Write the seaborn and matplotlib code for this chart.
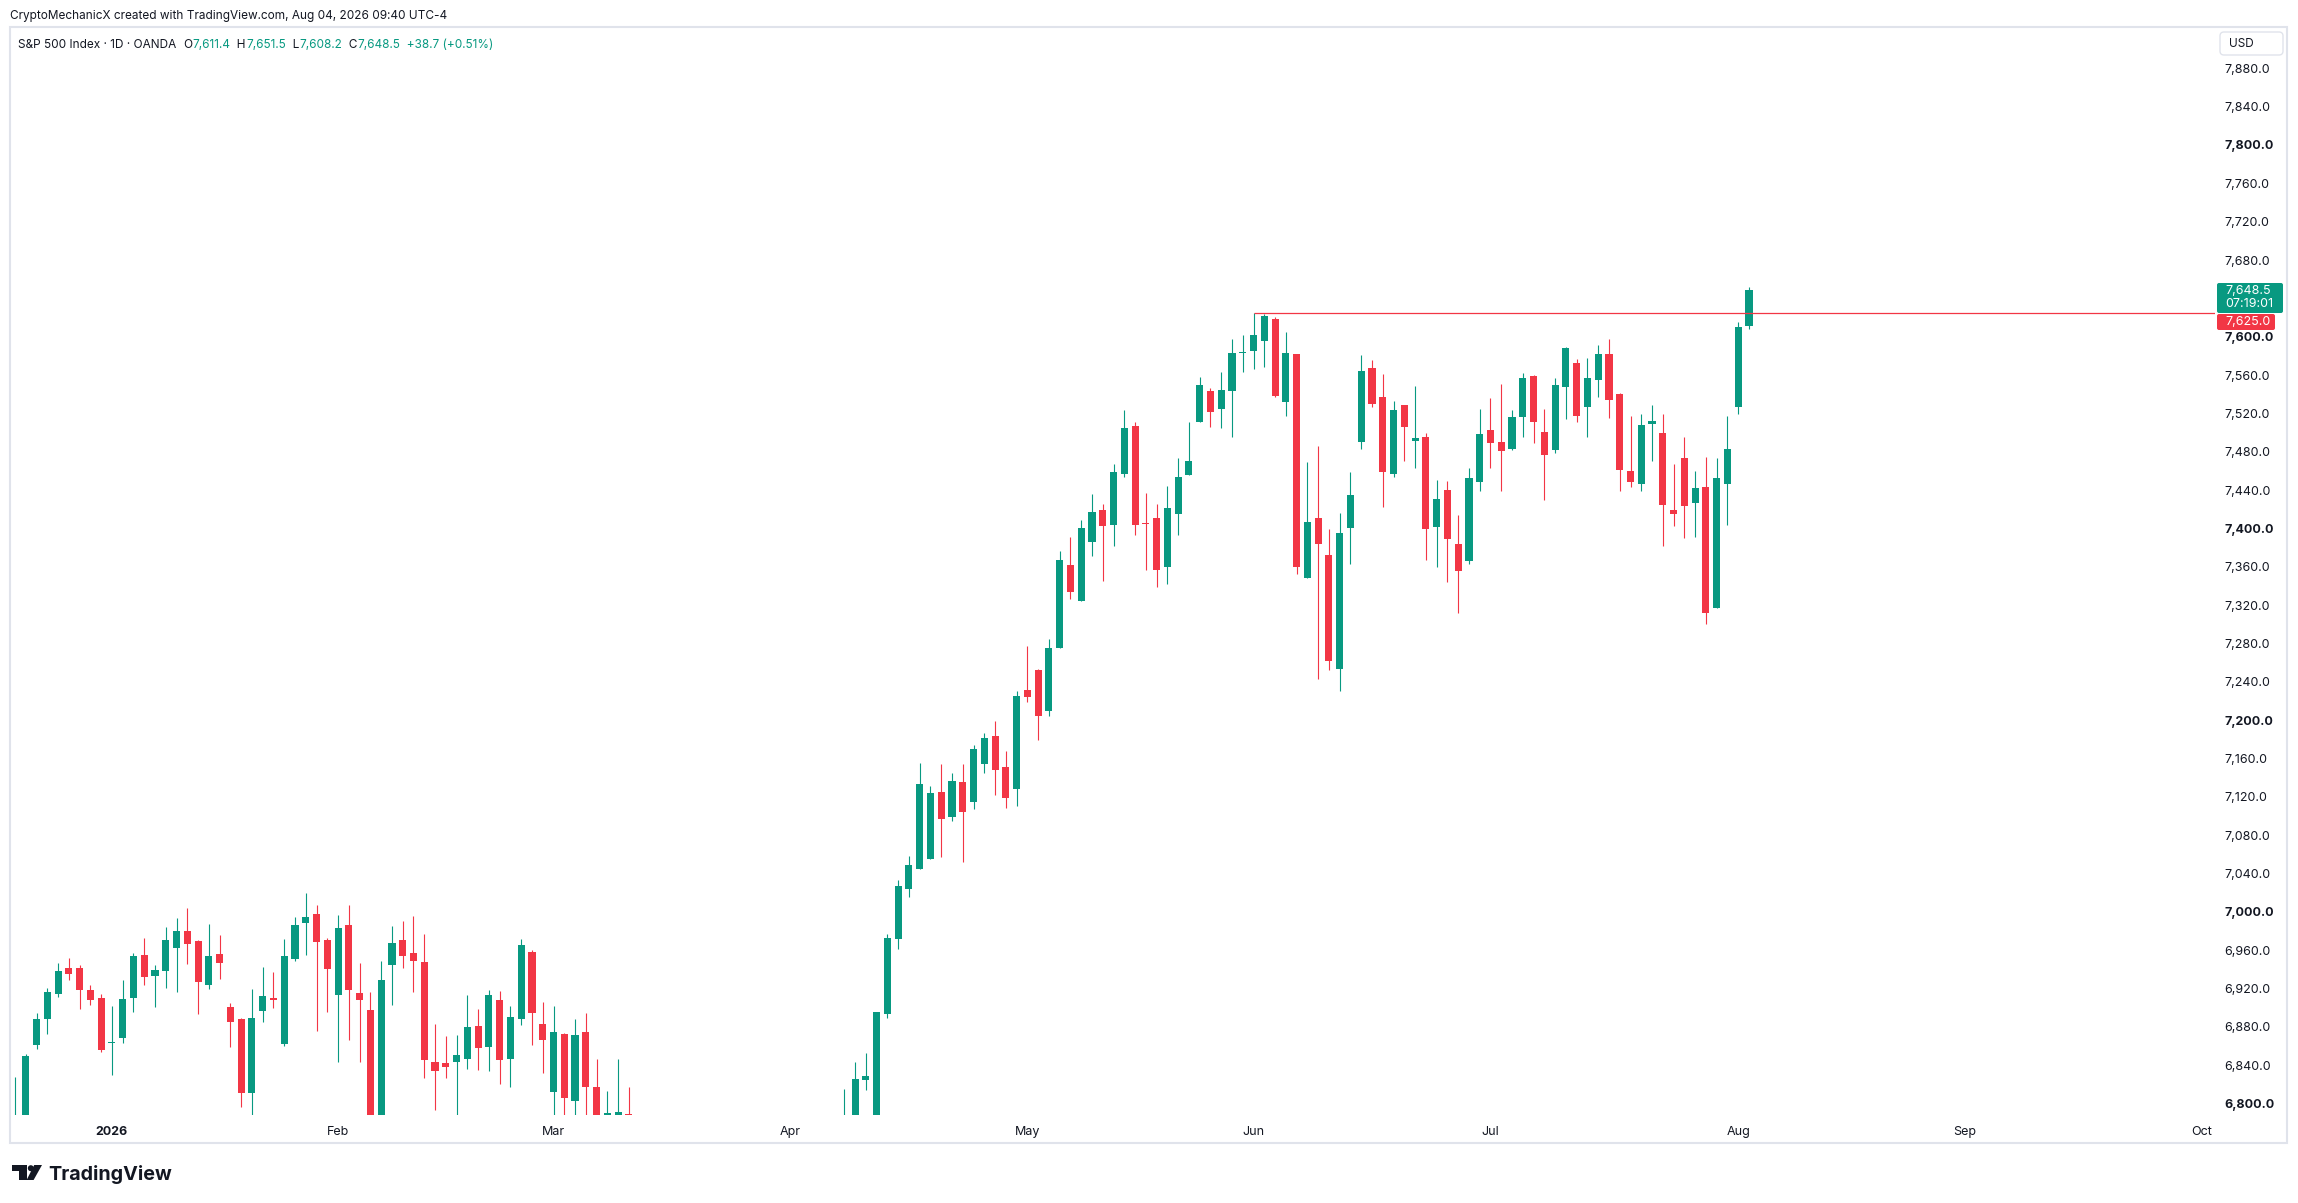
import numpy as np
import pandas as pd
import seaborn as sns
import matplotlib.pyplot as plt
from matplotlib.patches import Rectangle, FancyBboxPatch, Polygon, Circle

# ---------------- data ----------------
first_day = "2025-12-18"
last_axis_day = "2026-10-30"
closed_days = ["2025-12-25", "2026-01-01"]

opens = [6760, 6770, 6861, 6888, 6914.6, 6941.3, 6941.3, 6918.4, 6910, 6863,
         6868.7, 6910.4, 6954.9, 6933, 6938.6, 6962.6, 6980, 6969.9, 6923.6, 6956,
         6900.7, 6888.1, 6811.3, 6896.8, 6910, 6862, 6951.1, 6988.6, 6998, 6970.6,
         6913.2, 6986.2, 6915.3, 6897.5, 6770, 6944.8, 6970.6, 6957, 6947.6, 6843.3,
         6842.2, 6843.6, 6846.8, 6880.8, 6859.3, 6908, 6846.8, 6888.5, 6958, 6882.9,
         6812.3, 6872.5, 6802.9, 6874.6, 6816.8, 6765, 6770, 6789, 6765, 6712,
         6740, 6701, 6655, 6690, 6672, 6618, 6645, 6603, 6560, 6595,
         6630, 6598, 6655, 6705, 6680, 6735, 6718, 6760, 6775, 6825,
         6780, 6893.8, 6972, 7024.2, 7045.1, 7054.8, 7124.8, 7098.4, 7135.2, 7114.7,
         7154.6, 7183.3, 7150.9, 7128.5, 7231.4, 7252.2, 7209.8, 7274.8, 7361.8, 7324.6,
         7385.8, 7419.2, 7403.5, 7457.1, 7506.8, 7405.5, 7410.8, 7360, 7415.3, 7456,
         7511.3, 7543.3, 7524.5, 7543.7, 7582.6, 7585.1, 7595.8, 7618.4, 7532.2, 7582,
         7348.6, 7410.8, 7372.2, 7253.3, 7400.7, 7490.5, 7567.3, 7537.1, 7457.1, 7528.7,
         7491.5, 7495.3, 7401.8, 7440, 7383.7, 7366.3, 7448.1, 7502.3, 7489.8, 7482.8,
         7516.6, 7559, 7500.2, 7482.1, 7547.9, 7572.2, 7526.3, 7555.2, 7581.6, 7539.9,
         7459.9, 7446, 7508.6, 7499.5, 7419.2, 7473.5, 7426.8, 7443.2, 7317.3, 7446.7,
         7527, 7611.4]
highs = [6828, 6851.6, 6894, 6921, 6946.6, 6951.8, 6944.1, 6923.3, 6913.9, 6901.7,
         6928.8, 6956.6, 6972.6, 6944.5, 6984.1, 6993.2, 7004.3, 6970.6, 6987.3, 6975.8,
         6904.5, 6888.8, 6919.4, 6942.4, 6937.2, 6971.6, 6994.6, 7019.6, 7007.4, 6972.6,
         6996.6, 7007.4, 6946.6, 6916.3, 6949, 6985.2, 6990.4, 6995.6, 6976.8, 6882.9,
         6870.7, 6871.8, 6913.2, 6898.6, 6918.4, 6917.3, 6901.7, 6971.6, 6960.1, 6905.9,
         6901.7, 6873.9, 6888.1, 6894.4, 6846.4, 6813.4, 6846.4, 6817.2, 6780, 6760,
         6770, 6730, 6700, 6740, 6690, 6660, 6680, 6630, 6610, 6650,
         6660, 6670, 6720, 6740, 6750, 6770, 6775, 6815.5, 6843.5, 6852.8,
         6895.6, 6976.5, 7032.8, 7058.1, 7155.4, 7131.1, 7154.2, 7144.6, 7154.2, 7174.4,
         7186.7, 7199, 7167.7, 7230.3, 7277.6, 7253.4, 7284.3, 7376.4, 7391.3, 7408.7,
         7435.9, 7425.4, 7467.2, 7523.5, 7511, 7436.9, 7425.4, 7444.2, 7473.4, 7511,
         7558, 7546.1, 7563, 7598, 7601.7, 7624.4, 7623.7, 7620.2, 7604.9, 7582,
         7469.2, 7486.3, 7399.7, 7416, 7458.8, 7580.9, 7575.7, 7561.1, 7532.9, 7528.7,
         7548.5, 7499.2, 7450.5, 7449.4, 7414, 7463, 7524.6, 7536.1, 7550.7, 7523.5,
         7561.8, 7560.1, 7524.2, 7556.6, 7589.6, 7577.1, 7577.8, 7591, 7597.6, 7540.9,
         7517.3, 7519.4, 7528.7, 7519.4, 7467.2, 7495.7, 7460.2, 7474.5, 7473.4, 7517.6,
         7615.7, 7651.5]
lows = [6740, 6760, 6857, 6872, 6911.5, 6929.2, 6899, 6903.1, 6854, 6830,
        6863.4, 6895.8, 6924, 6901, 6920.8, 6916.7, 6945.9, 6893, 6919.1, 6930.2,
        6858.6, 6796, 6785, 6885.4, 6899.3, 6860.3, 6949, 6955.3, 6876, 6895.8,
        6843.6, 6866.2, 6843.6, 6750, 6750, 6902.7, 6941.7, 6916.7, 6826.9, 6793.5,
        6826.9, 6785, 6836.3, 6835.3, 6834.2, 6820.7, 6817.5, 6882.2, 6861.4, 6832.1,
        6780, 6780, 6780, 6780, 6740, 6740, 6740, 6740, 6700, 6680,
        6690, 6640, 6620, 6660, 6600, 6570, 6590, 6540, 6520, 6570,
        6580, 6585, 6640, 6660, 6670, 6700, 6705, 6745, 6765, 6813.7,
        6770, 6889.3, 6960.9, 7015.6, 7045.1, 7054.8, 7057, 7095, 7051.8, 7107.3,
        7144.9, 7121.8, 7108.8, 7110.3, 7219.1, 7179.6, 7203.8, 7274.8, 7326.3, 7324.6,
        7371.5, 7345.1, 7381.9, 7453.9, 7393.4, 7356.6, 7339.2, 7341.9, 7393.4, 7456,
        7511.3, 7506.1, 7505, 7495.7, 7563.5, 7566.3, 7568.7, 7536.7, 7517.2, 7352.4,
        7348.6, 7242.5, 7252.2, 7230, 7362.8, 7482.5, 7527, 7422.6, 7454, 7470.6,
        7463.3, 7367, 7359.3, 7344.4, 7312, 7362.8, 7439.4, 7463.4, 7438.7, 7481.8,
        7495.7, 7489.4, 7430, 7478.3, 7514.5, 7511.4, 7495.7, 7537.4, 7515.5, 7439.4,
        7443.5, 7439.4, 7470.7, 7381.6, 7402.9, 7390.3, 7391.4, 7299.9, 7317.3, 7403.5,
        7519.7, 7608.2]
closes = [6785, 6849.9, 6888, 6916, 6938.2, 6935.4, 6918.8, 6908.3, 6855.8, 6864,
          6909, 6953.9, 6932.3, 6939.3, 6970.6, 6980, 6966.7, 6927.1, 6953.9, 6946.9,
          6885.4, 6810.6, 6889.2, 6912, 6907.6, 6953.9, 6986.2, 6994.6, 6968.8, 6940.7,
          6983.1, 6918.7, 6908.3, 6770, 6928.8, 6967.4, 6954.2, 6949, 6845.7, 6834.2,
          6838.4, 6850.6, 6879.8, 6858.2, 6913.2, 6845.7, 6890.2, 6965.3, 6894.7, 6866.6,
          6874.6, 6806, 6871.4, 6817.5, 6765, 6790, 6790.8, 6765, 6712, 6740,
          6701, 6655, 6690, 6672, 6618, 6645, 6603, 6560, 6595, 6630,
          6598, 6655, 6705, 6680, 6735, 6718, 6760, 6775, 6826, 6828.6,
          6895.6, 6972.8, 7026.8, 7049.2, 7133.4, 7124.1, 7097.2, 7136.4, 7104.3, 7169.9,
          7181.4, 7148.3, 7119.2, 7225, 7224.3, 7204.5, 7275.3, 7367, 7333.3, 7400.4,
          7417.1, 7402.8, 7458.8, 7504.7, 7403.9, 7404.5, 7356.9, 7421.2, 7453.6, 7470.6,
          7549.6, 7521.8, 7544.4, 7583, 7584.5, 7601.7, 7621.6, 7538.1, 7583, 7360,
          7406.6, 7384, 7262, 7395.2, 7434.8, 7564.2, 7530.1, 7459.2, 7523.5, 7506.1,
          7494.3, 7399.7, 7430.6, 7389.3, 7355.9, 7452.6, 7498.5, 7489.4, 7481.1, 7516.2,
          7556.9, 7511.4, 7476.9, 7549.6, 7587.9, 7517.6, 7556.6, 7581.6, 7534.3, 7461.3,
          7448.8, 7507.9, 7512.1, 7424.8, 7414.7, 7423.7, 7442.2, 7312.1, 7452.6, 7482.8,
          7609.8, 7648.5]

level_price = 7625.0
level_start = "2026-06-01"
countdown = "07:19:01"
price_ticks = list(range(6800, 7900, 40))

header_text = "CryptoMechanicX created with TradingView.com, Aug 04, 2026 09:40 UTC-4"
symbol_text = "S&P 500 Index · 1D · OANDA"

# ---------------- styling ----------------
GREEN = "#089981"
RED = "#F23645"
INK = "#131722"
FRAME = "#E0E3EB"

sns.set_theme(style="white")
plt.rcParams["font.family"] = ["Inter", "DejaVu Sans"]

# trading calendar (bar index like TradingView, no weekend gaps)
dates = pd.bdate_range(first_day, last_axis_day)
dates = dates[~dates.isin(pd.to_datetime(closed_days))]

df = pd.DataFrame({"Date": dates[:len(closes)], "Open": opens, "High": highs,
                   "Low": lows, "Close": closes})
df["idx"] = np.arange(len(df))
df["up"] = df["Close"] >= df["Open"]
df["color"] = np.where(df["up"], GREEN, RED)
df["body_low"] = df[["Open", "Close"]].min(axis=1)
df["body_h"] = (df["Close"] - df["Open"]).abs().clip(lower=1.2)

W, H = 2298, 1203
fig = plt.figure(figsize=(W / 100, H / 100), dpi=100)
fig.patch.set_facecolor("white")

# chart pane in pixel geometry of the screenshot
left, right, top, bottom = 10, 2215, 26, 1115
ax = fig.add_axes([left / W, 1 - bottom / H, (right - left) / W, (bottom - top) / H])
ax.set_facecolor("white")

# wicks and bodies
ax.vlines(df["idx"], df["Low"], df["High"], colors=df["color"], linewidth=0.8, zorder=2)
ax.bar(df["idx"], df["body_h"], bottom=df["body_low"], width=0.66,
       color=df["color"], linewidth=0, zorder=3)

# scales
px_per_bar = 10.77
units_per_px = 1.0433
ax.set_xlim((left - 15) / px_per_bar, (right - 15) / px_per_bar)
ax.set_ylim(7800 - (bottom - 145) * units_per_px, 7800 - (top - 145) * units_per_px)

# horizontal level from the Jun 1 high to the right edge
start_idx = int(np.searchsorted(dates, pd.Timestamp(level_start)))
ax.hlines(level_price, start_idx, ax.get_xlim()[1], colors=RED, linewidth=0.9, zorder=4)

# price scale on the right
ax.yaxis.tick_right()
ax.set_yticks(price_ticks)
ax.set_yticklabels([f"{v:,.1f}" for v in price_ticks])
for lab, v in zip(ax.get_yticklabels(), price_ticks):
    if v % 200 == 0:
        lab.set_fontweight("bold")
ax.tick_params(axis="y", length=0, pad=7, labelsize=9, labelcolor=INK)

# time scale: first bar of each month
all_dates = pd.Series(dates)
month_first = all_dates.groupby(all_dates.dt.to_period("M")).head(1)
month_first = month_first[month_first >= pd.Timestamp("2026-01-01")]
tick_pos = month_first.index.tolist()
tick_lab = ["2026" if d.month == 1 else d.strftime("%b") for d in month_first]
ax.set_xticks(tick_pos)
ax.set_xticklabels(tick_lab)
for lab in ax.get_xticklabels():
    if lab.get_text() == "2026":
        lab.set_fontweight("bold")
ax.tick_params(axis="x", length=0, pad=8, labelsize=9, labelcolor=INK)
ax.set_xlabel("")
ax.set_ylabel("")
ax.grid(False)
sns.despine(ax=ax, left=True, bottom=True, right=True, top=True)

# ---------------- overlay in screenshot pixel coordinates ----------------
ov = fig.add_axes([0, 0, 1, 1], zorder=5)
ov.set_xlim(0, W)
ov.set_ylim(H, 0)
ov.axis("off")
ov.patch.set_alpha(0)

# outer frame
ov.add_patch(Rectangle((10, 26.5), 2277, 1116, fill=False, ec=FRAME, lw=1.5))

# header line
ov.text(10.5, 16, header_text, fontsize=8.5, color=INK, va="center", ha="left")

# symbol legend with OHLC
last = df.iloc[-1]
prev_close = df["Close"].iloc[-2]
chg = last["Close"] - prev_close
chg_pct = chg / prev_close * 100
parts = [(symbol_text + "  ", INK), ("O", INK), (f"{last['Open']:,.1f}", GREEN),
         ("  H", INK), (f"{last['High']:,.1f}", GREEN),
         ("  L", INK), (f"{last['Low']:,.1f}", GREEN),
         ("  C", INK), (f"{last['Close']:,.1f}", GREEN),
         (f"  {chg:+.1f} ({chg_pct:+.2f}%)", GREEN)]
prev = ov.text(18.5, 51, parts[0][0], fontsize=8.5, color=parts[0][1], va="bottom", ha="left")
for txt, col in parts[1:]:
    prev = ov.annotate(txt, xy=(1, 0), xycoords=prev, fontsize=8.5, color=col,
                       va="bottom", ha="left")

# currency box
ov.add_patch(FancyBboxPatch((2220, 32), 63, 23, boxstyle="round,pad=0,rounding_size=4",
                            fc="white", ec=FRAME, lw=1))
ov.text(2229, 44, "USD", fontsize=8.5, color=INK, va="center", ha="left")

# last price and level tags
ov.add_patch(FancyBboxPatch((2217, 283), 66, 30, boxstyle="round,pad=0,rounding_size=2",
                            fc=GREEN, ec="none"))
ov.text(2225, 290.5, f"{last['Close']:,.1f}", fontsize=9, color="white", va="center", ha="left")
ov.text(2225, 304, countdown, fontsize=9, color="white", va="center", ha="left")
ov.add_patch(FancyBboxPatch((2217, 314), 58, 16, boxstyle="round,pad=0,rounding_size=2",
                            fc=RED, ec="none"))
ov.text(2225, 322, f"{level_price:,.1f}", fontsize=9, color="white", va="center", ha="left")

# TradingView logo
ov.add_patch(Rectangle((11.7, 1165), 15, 5.7, fc=INK, ec="none"))
ov.add_patch(Rectangle((19, 1165), 7.7, 15, fc=INK, ec="none"))
ov.add_patch(Circle((30.8, 1168.2), 3.0, fc=INK, ec="none"))
ov.add_patch(Polygon([(34.2, 1165), (42, 1165), (33.6, 1180), (26.6, 1180)], closed=True,
                     fc=INK, ec="none"))
ov.text(48.5, 1180.5, "TradingView", fontsize=14.2, fontweight="bold", color=INK,
        va="baseline", ha="left")

fig.savefig("out.png", dpi=100, facecolor="white")
